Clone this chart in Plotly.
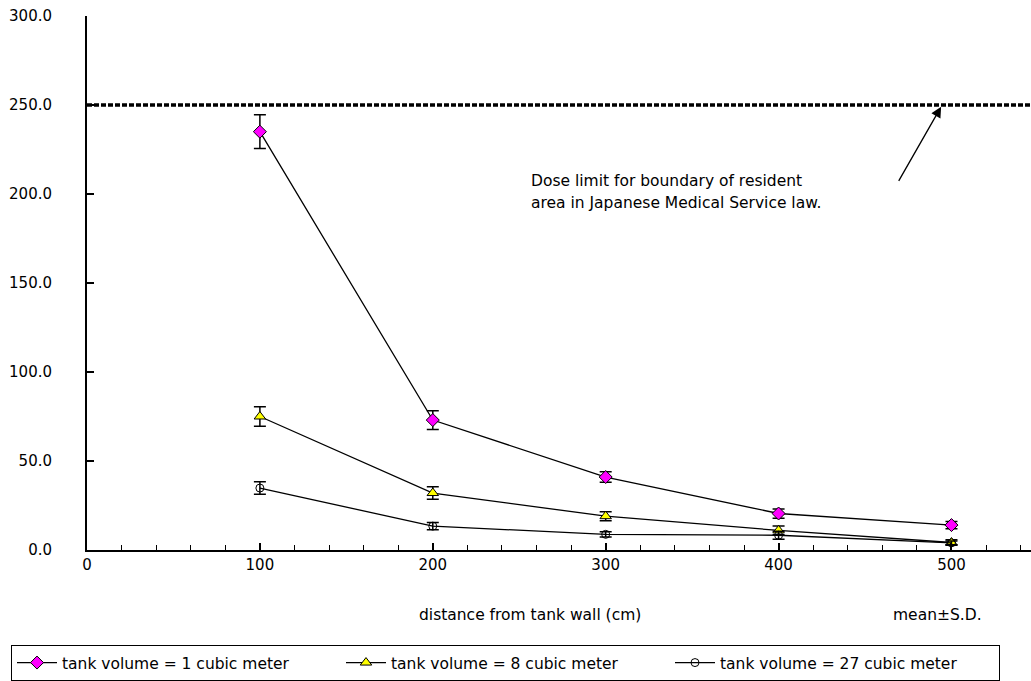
import plotly.graph_objects as go

# distance from the tank wall (cm)
distance = [100, 200, 300, 400, 500]

# dose rate per tank volume: mean and standard deviation
vol1_mean = [235.0, 73.0, 41.0, 20.5, 14.0]
vol1_sd = [9.5, 5.3, 3.0, 2.6, 2.0]
vol8_mean = [75.0, 32.0, 19.0, 11.0, 4.2]
vol8_sd = [5.5, 3.5, 2.5, 2.5, 1.5]
vol27_mean = [34.8, 13.4, 8.8, 8.3, 4.0]
vol27_sd = [3.5, 2.0, 1.5, 2.2, 1.0]

series_names = [
    "tank volume = 1 cubic meter",
    "tank volume = 8 cubic meter",
    "tank volume = 27 cubic meter",
]

dose_limit = 250.0

y_ticks = [0, 50, 100, 150, 200, 250, 300]
y_tick_text = ["0.0", "50.0", "100.0", "150.0", "200.0", "250.0", "300.0"]
x_ticks = [0, 100, 200, 300, 400, 500]

FONT = "DejaVu Sans"
TICK_FS = 15
TEXT_FS = 15.5

W, H = 1031, 681
L, R, T, B = 87, 0, 16, 130
PW, PH = W - L - R, H - T - B


def px_x(x):
    return (x - L) / PW


def px_y(y):
    return 1 - (y - T) / PH


fig = go.Figure()

styles = [
    dict(symbol="diamond", color="#ff00ff", size=10),
    dict(symbol="triangle-up", color="#ffff00", size=10),
    dict(symbol="circle-open", color="black", size=8),
]

for name, mean, sd, st in zip(
    series_names,
    [vol1_mean, vol8_mean, vol27_mean],
    [vol1_sd, vol8_sd, vol27_sd],
    styles,
):
    fig.add_trace(
        go.Scatter(
            x=distance,
            y=mean,
            name=name,
            mode="lines+markers",
            line=dict(color="black", width=1.3),
            marker=dict(
                symbol=st["symbol"],
                color=st["color"],
                size=st["size"],
                line=dict(color="black", width=1),
            ),
            error_y=dict(
                type="data",
                array=sd,
                visible=True,
                color="black",
                thickness=1.5,
                width=6,
            ),
        )
    )

# regulatory dose limit
fig.add_shape(
    type="line",
    xref="x",
    yref="y",
    x0=0,
    x1=546,
    y0=dose_limit,
    y1=dose_limit,
    line=dict(color="black", width=3.5, dash="5px,2px"),
    layer="above",
)

fig.add_annotation(
    x=494,
    y=dose_limit - 1,
    ax=469,
    ay=206.5,
    xref="x",
    yref="y",
    axref="x",
    ayref="y",
    text="",
    showarrow=True,
    arrowhead=2,
    arrowsize=1.6,
    arrowwidth=1.3,
    arrowcolor="black",
)

note_lines = [
    "Dose limit for boundary of resident",
    "area in Japanese Medical Service law.",
]
for i, line in enumerate(note_lines):
    fig.add_annotation(
        x=px_x(529),
        y=px_y(181 + 22 * i),
        xref="paper",
        yref="paper",
        text=line,
        showarrow=False,
        xanchor="left",
        yanchor="middle",
        font=dict(family=FONT, size=TEXT_FS, color="black"),
    )

fig.add_annotation(
    x=px_x(530), y=px_y(616), xref="paper", yref="paper",
    text="distance from tank wall (cm)", showarrow=False,
    xanchor="center", yanchor="middle",
    font=dict(family=FONT, size=TEXT_FS, color="black"),
)
fig.add_annotation(
    x=px_x(937), y=px_y(616), xref="paper", yref="paper",
    text="mean±S.D.", showarrow=False,
    xanchor="center", yanchor="middle",
    font=dict(family=FONT, size=TEXT_FS, color="black"),
)

fig.update_layout(
    width=W,
    height=H,
    margin=dict(l=L, r=R, t=T, b=B, pad=0),
    paper_bgcolor="white",
    plot_bgcolor="white",
    font=dict(family=FONT, size=TEXT_FS, color="black"),
    showlegend=True,
    legend=dict(
        orientation="h",
        x=px_x(11),
        y=px_y(646),
        xanchor="left",
        yanchor="top",
        bordercolor="black",
        borderwidth=1,
        bgcolor="white",
        itemwidth=40,
        entrywidth=274,
        font=dict(family=FONT, size=TEXT_FS, color="black"),
        tracegroupgap=0,
    ),
    xaxis=dict(
        range=[0, 546],
        tickvals=x_ticks,
        ticks="inside",
        ticklen=7,
        tickwidth=1.5,
        tickcolor="black",
        showline=True,
        linecolor="black",
        linewidth=2,
        showgrid=False,
        zeroline=False,
        tickfont=dict(family=FONT, size=TICK_FS, color="black"),
        ticklabelstandoff=0,
        minor=dict(dtick=20, ticks="inside", ticklen=5, tickwidth=1.2, tickcolor="black", showgrid=False),
    ),
    yaxis=dict(
        range=[0, 300],
        tickvals=y_ticks,
        ticktext=y_tick_text,
        ticks="inside",
        ticklen=7,
        tickwidth=1.5,
        tickcolor="black",
        showline=True,
        linecolor="black",
        linewidth=2,
        showgrid=False,
        zeroline=False,
        tickfont=dict(family=FONT, size=TICK_FS, color="black"),
        ticklabelstandoff=30,
    ),
)

fig.write_html("out.html")
